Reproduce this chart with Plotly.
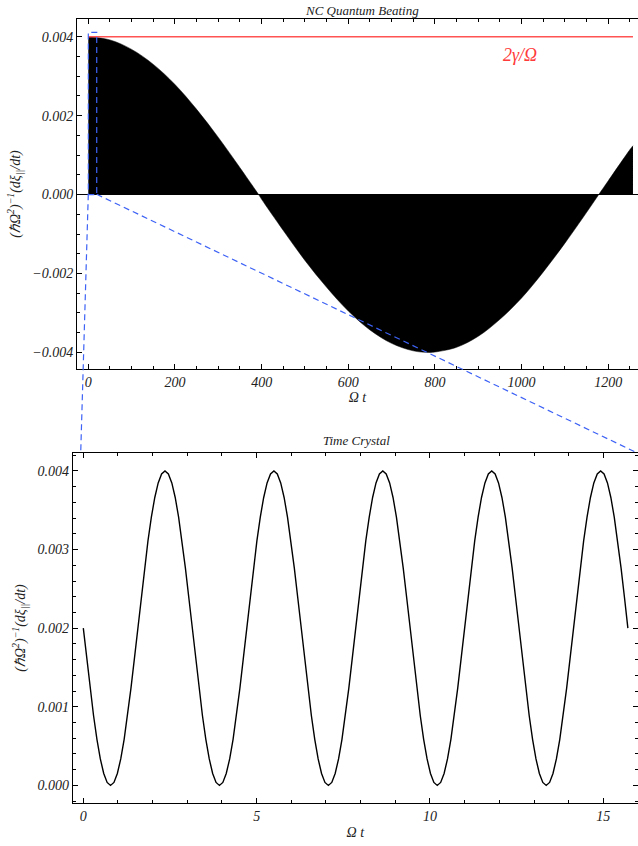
import plotly.graph_objects as go

# ---------------- data ----------------
# Top panel: envelope of the fast "quantum beating" oscillation (filled black to zero)
beat_t = [0, 50, 100, 150, 200, 250, 300, 350, 393, 400, 450, 500, 550, 600, 650, 700,
          750, 785, 800, 850, 900, 950, 1000, 1050, 1100, 1150, 1178, 1200, 1250, 1257]
beat_env = [0.00400, 0.00392, 0.00368, 0.00330, 0.00279, 0.00216, 0.00145, 0.00068, 0.0,
            -0.00012, -0.00091, -0.00167, -0.00235, -0.00295, -0.00343, -0.00377,
            -0.00396, -0.00400, -0.00399, -0.00387, -0.00359, -0.00316, -0.00262, -0.00196,
            -0.00123, -0.00045, 0.0, 0.00035, 0.00114, 0.00124]
bound_t = [0, 1257]
bound_v = [0.004, 0.004]
bound_label = "<i>2γ/Ω</i>"

# Bottom panel: time crystal curve
tc_t = [0.000, 0.098, 0.196, 0.295, 0.393, 0.491, 0.589, 0.687, 0.785, 0.884, 0.982, 1.080,
        1.178, 1.276, 1.374, 1.473, 1.571, 1.669, 1.767, 1.865, 1.963, 2.062, 2.160, 2.258,
        2.356, 2.454, 2.553, 2.651, 2.749, 2.847, 2.945, 3.043, 3.142, 3.240, 3.338, 3.436,
        3.534, 3.633, 3.731, 3.829, 3.927, 4.025, 4.123, 4.222, 4.320, 4.418, 4.516, 4.614,
        4.712, 4.811, 4.909, 5.007, 5.105, 5.203, 5.301, 5.400, 5.498, 5.596, 5.694, 5.792,
        5.890, 5.989, 6.087, 6.185, 6.283, 6.381, 6.480, 6.578, 6.676, 6.774, 6.872, 6.970,
        7.069, 7.167, 7.265, 7.363, 7.461, 7.559, 7.658, 7.756, 7.854, 7.952, 8.050, 8.148,
        8.247, 8.345, 8.443, 8.541, 8.639, 8.737, 8.836, 8.934, 9.032, 9.130, 9.228, 9.327,
        9.425, 9.523, 9.621, 9.719, 9.817, 9.916, 10.014, 10.112, 10.210, 10.308, 10.407,
        10.505, 10.603, 10.701, 10.799, 10.897, 10.996, 11.094, 11.192, 11.290, 11.388,
        11.486, 11.585, 11.683, 11.781, 11.879, 11.977, 12.075, 12.174, 12.272, 12.370,
        12.468, 12.566, 12.665, 12.763, 12.861, 12.959, 13.057, 13.155, 13.254, 13.352,
        13.450, 13.548, 13.646, 13.744, 13.843, 13.941, 14.039, 14.137, 14.235, 14.334,
        14.432, 14.530, 14.628, 14.726, 14.825, 14.923, 15.021, 15.119, 15.217, 15.315,
        15.414, 15.512, 15.610, 15.708]
tc_v = [
    0.002000, 0.001610, 0.001235, 0.000889, 0.000586, 0.000337, 0.000152, 0.000038,
    0.000000, 0.000038, 0.000152, 0.000337, 0.000586, 0.000889, 0.001235, 0.001610,
    0.002000, 0.002390, 0.002765, 0.003111, 0.003414, 0.003663, 0.003848, 0.003962,
    0.004000, 0.003962, 0.003848, 0.003663, 0.003414, 0.003111, 0.002765, 0.002390,
    0.002000, 0.001610, 0.001235, 0.000889, 0.000586, 0.000337, 0.000152, 0.000038,
    0.000000, 0.000038, 0.000152, 0.000337, 0.000586, 0.000889, 0.001235, 0.001610,
    0.002000, 0.002390, 0.002765, 0.003111, 0.003414, 0.003663, 0.003848, 0.003962,
    0.004000, 0.003962, 0.003848, 0.003663, 0.003414, 0.003111, 0.002765, 0.002390,
    0.002000, 0.001610, 0.001235, 0.000889, 0.000586, 0.000337, 0.000152, 0.000038,
    0.000000, 0.000038, 0.000152, 0.000337, 0.000586, 0.000889, 0.001235, 0.001610,
    0.002000, 0.002390, 0.002765, 0.003111, 0.003414, 0.003663, 0.003848, 0.003962,
    0.004000, 0.003962, 0.003848, 0.003663, 0.003414, 0.003111, 0.002765, 0.002390,
    0.002000, 0.001610, 0.001235, 0.000889, 0.000586, 0.000337, 0.000152, 0.000038,
    0.000000, 0.000038, 0.000152, 0.000337, 0.000586, 0.000889, 0.001235, 0.001610,
    0.002000, 0.002390, 0.002765, 0.003111, 0.003414, 0.003663, 0.003848, 0.003962,
    0.004000, 0.003962, 0.003848, 0.003663, 0.003414, 0.003111, 0.002765, 0.002390,
    0.002000, 0.001610, 0.001235, 0.000889, 0.000586, 0.000337, 0.000152, 0.000038,
    0.000000, 0.000038, 0.000152, 0.000337, 0.000586, 0.000889, 0.001235, 0.001610,
    0.002000, 0.002390, 0.002765, 0.003111, 0.003414, 0.003663, 0.003848, 0.003962,
    0.004000, 0.003962, 0.003848, 0.003663, 0.003414, 0.003111, 0.002765, 0.002390,
    0.002000]

top_title = "<i>NC Quantum Beating</i>"
bot_title = "<i>Time Crystal</i>"
x_title = "<i>Ω t</i>"
y_title = "<i>(ℏΩ<sup>2</sup>)<sup>−1</sup>(dξ<sub>||</sub>/dt)</i>"

# ---------------- figure ----------------
W, H = 638, 846
FONT = "Liberation Serif, Times New Roman, serif"
BLUE = "#3d62f5"
TXT = "#222222"

def px(x):
    return x / W

def py(y):
    return 1 - y / H

fig = go.Figure()

fig.add_trace(go.Scatter(x=beat_t, y=beat_env, mode="lines", fill="tozeroy",
                         fillcolor="black", line=dict(color="black", width=0.5, shape="spline"),
                         xaxis="x", yaxis="y", showlegend=False, hoverinfo="skip"))
fig.add_trace(go.Scatter(x=bound_t, y=bound_v, mode="lines",
                         line=dict(color="#ff5252", width=1.3),
                         xaxis="x", yaxis="y", showlegend=False))
fig.add_trace(go.Scatter(x=tc_t, y=tc_v, mode="lines",
                         line=dict(color="black", width=1.4),
                         xaxis="x2", yaxis="y2", showlegend=False))

tickfont = dict(family=FONT, size=14, color=TXT, style="italic")
titlefont = dict(family=FONT, size=14, color=TXT)

axis_common = dict(showline=True, linecolor="black", linewidth=1,
                   ticks="inside", tickcolor="black", ticklen=5, tickwidth=1,
                   showgrid=False, zeroline=False, tickfont=tickfont)

fig.update_layout(
    width=W, height=H,
    margin=dict(l=0, r=0, t=0, b=0),
    plot_bgcolor="white", paper_bgcolor="white",
    xaxis=dict(**axis_common, mirror="allticks", domain=[px(77), 1.0], range=[-26.1, 1268.6],
               anchor="y", dtick=200, tick0=0,
               minor=dict(dtick=50, ticks="inside", ticklen=3, tickcolor="black"),
               title=dict(text=x_title, standoff=0, font=titlefont)),
    yaxis=dict(**axis_common, mirror=False, domain=[py(369), py(19)], range=[-0.00442, 0.00445],
               anchor="x", dtick=0.002, tick0=0, tickformat=".3f",
               minor=dict(dtick=0.0005, ticks="inside", ticklen=3, tickcolor="black"),
               title=dict(text=y_title, standoff=8, font=titlefont)),
    xaxis2=dict(**axis_common, mirror="allticks", domain=[px(72.7), 1.0], range=[-0.306, 16.0],
                anchor="y2", dtick=5, tick0=0,
                minor=dict(dtick=1, ticks="inside", ticklen=3, tickcolor="black"),
                title=dict(text=x_title, standoff=4, font=titlefont)),
    yaxis2=dict(**axis_common, mirror="allticks", domain=[py(802.7), py(453.3)],
                range=[-0.00022, 0.004225],
                anchor="x2", dtick=0.001, tick0=0, tickformat=".3f",
                minor=dict(dtick=0.0002, ticks="inside", ticklen=3, tickcolor="black"),
                title=dict(text=y_title, standoff=8, font=titlefont)),
)

# zero line of top panel
fig.layout.yaxis.zeroline = True
fig.layout.yaxis.zerolinecolor = "black"
fig.layout.yaxis.zerolinewidth = 1

# titles
fig.add_annotation(text=top_title, x=px(362), y=py(10), xref="paper", yref="paper",
                   xanchor="center", yanchor="middle",
                   showarrow=False, font=dict(family=FONT, size=13, color=TXT))
fig.add_annotation(text=bot_title, x=px(356), y=py(440), xref="paper", yref="paper",
                   xanchor="center", yanchor="middle",
                   showarrow=False, font=dict(family=FONT, size=13, color=TXT))
# red label
fig.add_annotation(text=bound_label, x=996, y=0.00354, xref="x", yref="y",
                   xanchor="center", yanchor="middle",
                   showarrow=False, font=dict(family=FONT, size=18, color="#ff3a3a"))

# zoom rectangle and connector lines
dash = dict(color=BLUE, width=1.2, dash="6px,4px")
fig.add_shape(type="rect", xref="x", yref="y", x0=0, x1=19.4, y0=0, y1=0.00411, line=dash)
fig.add_shape(type="line", xref="paper", yref="paper", x0=px(88.3), y0=py(194.3),
              x1=px(80.7), y1=py(453.3), line=dash)
fig.add_shape(type="line", xref="paper", yref="paper", x0=px(96.7), y0=py(194.3),
              x1=px(638), y1=py(453.3), line=dash)

fig.write_html("out.html", config={"displayModeBar": False},
               post_script="document.body.style.margin='0';document.body.style.padding='0';")
